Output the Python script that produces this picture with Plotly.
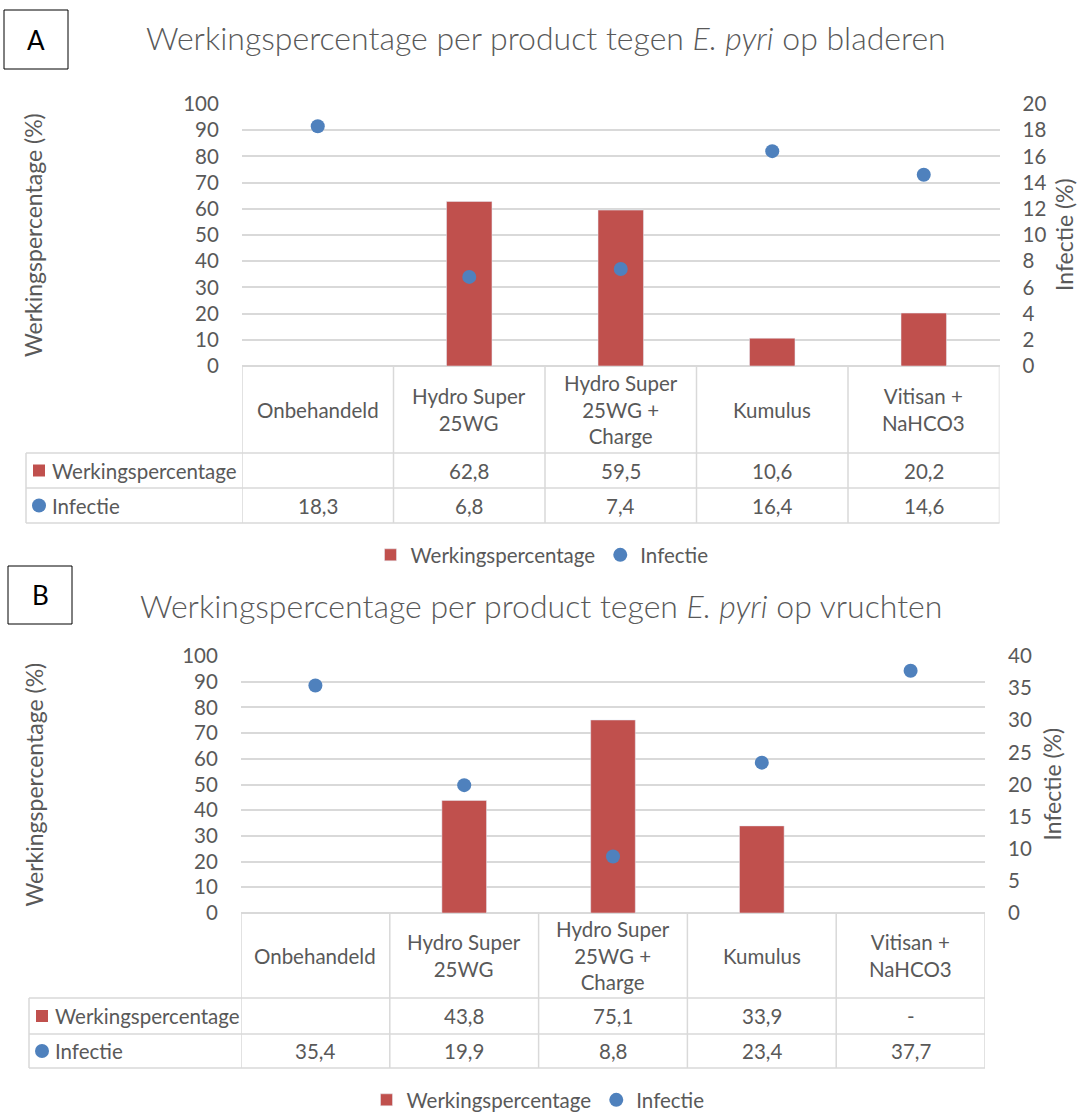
import plotly.graph_objects as go

# ---------------- data ----------------
categories = ["Onbehandeld", "Hydro Super 25WG", "Hydro Super 25WG + Charge", "Kumulus", "Vitisan + NaHCO3"]
header_labels = ["Onbehandeld", "Hydro Super<br>25WG", "Hydro Super<br>25WG +<br>Charge", "Kumulus", "Vitisan +<br>NaHCO3"]

werking_A = [None, 62.8, 59.5, 10.6, 20.2]
infectie_A = [18.3, 6.8, 7.4, 16.4, 14.6]

werking_B = [None, 43.8, 75.1, 33.9, None]
infectie_B = [35.4, 19.9, 8.8, 23.4, 37.7]
missing_B = ["", "", "", "", "-"]
missing_A = ["", "", "", "", ""]

title_A = "Werkingspercentage per product tegen <i>E. pyri</i> op bladeren"
title_B = "Werkingspercentage per product tegen <i>E. pyri</i> op vruchten"

left_ticks = list(range(0, 101, 10))
right_ticks_A = list(range(0, 21, 2))
right_ticks_B = list(range(0, 41, 5))

# ---------------- style ----------------
W, H = 1079, 1113
RED = "#C0504D"
BLUE = "#4F81BD"
GRAY = "#595959"
LINE = "#D9D9D9"
FONT = "Lato, 'Open Sans', sans-serif"
FS = 20.5


def px(x):
    return x / W


def py(y):
    return 1 - y / H


def fmt(v, miss=""):
    if v is None:
        return miss
    return f"{v:.1f}".replace(".", ",")


positions = list(range(len(categories)))

fig = go.Figure()

panels = [
    dict(w=werking_A, inf=infectie_A, miss=missing_A, xa="x", ya="y", ya2="y2", legend="legend",
         left=242, right=999.5, top=104, bottom=366, rows=(453, 488, 523), tleft=26,
         title=title_A, title_x=546, title_y=37, box=(4, 10, 68, 69), letter="A",
         rt=right_ticks_A, rmax=20, ltitle_x=33, rtitle_x=1064, leg_y=555, leg_x=542),
    dict(w=werking_B, inf=infectie_B, miss=missing_B, xa="x2", ya="y3", ya2="y4", legend="legend2",
         left=241, right=985, top=656, bottom=913, rows=(998, 1034, 1068), tleft=29,
         title=title_B, title_x=541, title_y=605, box=(8, 566, 72, 624), letter="B",
         rt=right_ticks_B, rmax=40, ltitle_x=33, rtitle_x=1051, leg_y=1100, leg_x=538),
]

shapes = []
annotations = []

for p in panels:
    fig.add_trace(go.Bar(
        x=positions, y=p["w"], name="Werkingspercentage", marker=dict(color=RED),
        width=0.3, xaxis=p["xa"], yaxis=p["ya"], legend=p["legend"]))
    fig.add_trace(go.Scatter(
        x=positions, y=p["inf"], name="Infectie", mode="markers",
        marker=dict(color=BLUE, size=14), xaxis=p["xa"], yaxis=p["ya2"], legend=p["legend"]))

    xr = p["xa"]
    top_t = p["bottom"]
    r1, r2, r3 = p["rows"]
    tl = p["tleft"]
    # vertical table lines at category boundaries
    for i in range(len(categories) + 1):
        shapes.append(dict(type="line", xref=xr, yref="paper", x0=i - 0.5, x1=i - 0.5,
                           y0=py(top_t), y1=py(r3), line=dict(color=LINE, width=1.5)))
    # horizontal table lines
    for yy in (r1, r2, r3):
        shapes.append(dict(type="line", xref="paper", yref="paper", x0=px(tl), x1=px(p["right"]),
                           y0=py(yy), y1=py(yy), line=dict(color=LINE, width=1.5)))
    shapes.append(dict(type="line", xref="paper", yref="paper", x0=px(tl), x1=px(tl),
                       y0=py(r1), y1=py(r3), line=dict(color=LINE, width=1.5)))

    # header labels
    for i, lab in enumerate(header_labels):
        annotations.append(dict(xref=xr, yref="paper", x=i, y=py((top_t + r1) / 2), text=lab,
                                showarrow=False, xanchor="center", yanchor="middle",
                                font=dict(family=FONT, size=FS, color=GRAY)))
    # values
    for i in positions:
        annotations.append(dict(xref=xr, yref="paper", x=i, y=py((r1 + r2) / 2),
                                text=fmt(p["w"][i], p["miss"][i]), showarrow=False,
                                yanchor="middle",
                                font=dict(family=FONT, size=FS, color=GRAY)))
        annotations.append(dict(xref=xr, yref="paper", x=i, y=py((r2 + r3) / 2),
                                text=fmt(p["inf"][i]), showarrow=False,
                                yanchor="middle",
                                font=dict(family=FONT, size=FS, color=GRAY)))
    # row label keys (legend keys of the data table)
    c1 = (r1 + r2) / 2
    c2 = (r2 + r3) / 2
    shapes.append(dict(type="rect", xref="paper", yref="paper", x0=px(tl + 7), x1=px(tl + 19),
                       y0=py(c1 + 6), y1=py(c1 - 6), line=dict(width=0), fillcolor=RED))
    shapes.append(dict(type="circle", xref="paper", yref="paper", x0=px(tl + 6), x1=px(tl + 20),
                       y0=py(c2 + 7), y1=py(c2 - 7), line=dict(width=0), fillcolor=BLUE))
    annotations.append(dict(xref="paper", yref="paper", x=px(tl + 24), y=py(c1),
                            xanchor="left", yanchor="middle", showarrow=False,
                            text="Werkingspercentage",
                            font=dict(family=FONT, size=FS, color=GRAY)))
    annotations.append(dict(xref="paper", yref="paper", x=px(tl + 24), y=py(c2),
                            xanchor="left", yanchor="middle", showarrow=False,
                            text="Infectie",
                            font=dict(family=FONT, size=FS, color=GRAY)))
    # titles
    annotations.append(dict(xref="paper", yref="paper", x=px(p["title_x"]), y=py(p["title_y"]),
                            text=p["title"], showarrow=False, xanchor="center", yanchor="middle",
                            font=dict(family=FONT, size=32, color=GRAY, weight=300)))
    mid = (p["top"] + p["bottom"]) / 2
    annotations.append(dict(xref="paper", yref="paper", x=px(p["ltitle_x"]), y=py(mid),
                            text="Werkingspercentage (%)", textangle=-90, showarrow=False,
                            xanchor="center", yanchor="middle",
                            font=dict(family=FONT, size=23, color=GRAY)))
    annotations.append(dict(xref="paper", yref="paper", x=px(p["rtitle_x"]), y=py(mid),
                            text="Infectie (%)", textangle=-90, showarrow=False,
                            xanchor="center", yanchor="middle",
                            font=dict(family=FONT, size=23, color=GRAY)))
    # panel letter box
    x0, y0, x1, y1 = p["box"]
    shapes.append(dict(type="rect", xref="paper", yref="paper", x0=px(x0), x1=px(x1),
                       y0=py(y1), y1=py(y0), line=dict(color="black", width=1)))
    annotations.append(dict(xref="paper", yref="paper", x=px((x0 + x1) / 2), y=py((y0 + y1) / 2),
                            text=p["letter"], showarrow=False, xanchor="center", yanchor="middle",
                            font=dict(family=FONT, size=26, color="black")))

xcommon = dict(range=[-0.5, 4.5], showticklabels=False, showgrid=False, zeroline=False,
               showline=False, ticks="", fixedrange=True)
ycommon = dict(showline=False, ticks="outside", ticklen=0, ticklabelstandoff=18,
               tickfont=dict(family=FONT, size=FS, color=GRAY))

pa, pb = panels
fig.update_layout(
    width=W, height=H,
    margin=dict(l=0, r=0, t=0, b=0, autoexpand=False),
    paper_bgcolor="white", plot_bgcolor="white",
    barmode="group",
    xaxis=dict(domain=[px(pa["left"]), px(pa["right"])], anchor="y", **xcommon),
    yaxis=dict(domain=[py(pa["bottom"]), py(pa["top"])], anchor="x", range=[0, 100],
               tickvals=left_ticks, showgrid=True, gridcolor=LINE, gridwidth=1.5,
               zeroline=True, zerolinecolor=LINE, zerolinewidth=1.5, **ycommon),
    yaxis2=dict(overlaying="y", side="right", anchor="x", range=[0, pa["rmax"]],
                tickvals=pa["rt"], showgrid=False, zeroline=False, **ycommon),
    xaxis2=dict(domain=[px(pb["left"]), px(pb["right"])], anchor="y3", **xcommon),
    yaxis3=dict(domain=[py(pb["bottom"]), py(pb["top"])], anchor="x2", range=[0, 100],
                tickvals=left_ticks, showgrid=True, gridcolor=LINE, gridwidth=1.5,
                zeroline=True, zerolinecolor=LINE, zerolinewidth=1.5, **ycommon),
    yaxis4=dict(overlaying="y3", side="right", anchor="x2", range=[0, pb["rmax"]],
                tickvals=pb["rt"], showgrid=False, zeroline=False, **ycommon),
    legend=dict(orientation="h", x=px(pa["leg_x"]), xanchor="center", y=py(pa["leg_y"]), yanchor="middle",
                font=dict(family=FONT, size=FS, color=GRAY), itemwidth=30),
    legend2=dict(orientation="h", x=px(pb["leg_x"]), xanchor="center", y=py(pb["leg_y"]), yanchor="middle",
                 font=dict(family=FONT, size=FS, color=GRAY), itemwidth=30),
    shapes=shapes,
    annotations=annotations,
    showlegend=True,
)

fig.write_html("out.html")
